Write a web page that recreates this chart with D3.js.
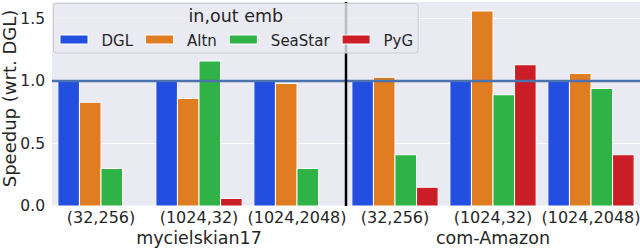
<!DOCTYPE html>
<html>
<head>
<meta charset="utf-8">
<script src="https://cdn.jsdelivr.net/npm/d3@7"></script>
<style>
  body { margin: 0; background: #fff; }
  svg { font-family: "DejaVu Sans", sans-serif; display: block; }
</style>
</head>
<body>
<div id="chart"></div>
<script>
// data
const groups = ["(32,256)", "(1024,32)", "(1024,2048)", "(32,256) ", "(1024,32) ", "(1024,2048) "];
const datasets = ["mycielskian17", "com-Amazon"];
const series = ["DGL", "Altn", "SeaStar", "PyG"];
const colors = ["#224fdf", "#df7d20", "#30b346", "#cb1d25"];
const dgl = [1.0, 1.0, 1.0, 1.0, 1.0, 1.0];
const altn = [0.83, 0.86, 0.98, 1.03, 1.56, 1.06];
const seastar = [0.30, 1.16, 0.30, 0.41, 0.89, 0.94];
const pyg = [0, 0.06, 0, 0.15, 1.13, 0.41];
const yTicks = [0, 0.5, 1.0, 1.5];

const values = [dgl, altn, seastar, pyg];
const rows = [];
groups.forEach((g, i) => series.forEach((s, j) => rows.push({ group: g, serie: s, value: values[j][i] })));

const width = 640, height = 250;
const margin = { top: 2, right: 0, bottom: 44, left: 52 };

const svg = d3.select("#chart").append("svg")
  .attr("width", width)
  .attr("height", height);

const x0 = d3.scaleBand().domain(groups).range([margin.left, width - margin.right]);
const bw = x0.bandwidth();
const x1 = d3.scaleBand().domain(series).range([bw * 0.06, bw * 0.94]);
const y = d3.scaleLinear().domain([0, 1.632]).range([height - margin.bottom, margin.top]);

// achtergrond
svg.append("rect")
  .attr("x", margin.left).attr("y", margin.top)
  .attr("width", width - margin.left - margin.right)
  .attr("height", y(0) - margin.top)
  .attr("fill", "#eaeaf2");

// gridlijnen
svg.append("g").selectAll("line").data(yTicks).join("line")
  .attr("x1", margin.left).attr("x2", width - margin.right)
  .attr("y1", d => y(d)).attr("y2", d => y(d))
  .attr("stroke", "#fff").attr("stroke-width", 1.2);

// Y-AS
svg.append("g")
  .attr("transform", `translate(${margin.left},0)`)
  .call(d3.axisLeft(y).tickValues(yTicks).tickFormat(d3.format(".1f")).tickSize(0).tickPadding(7))
  .call(g => g.select(".domain").remove())
  .selectAll("text")
  .attr("font-size", 15.5).attr("font-family", "DejaVu Sans").attr("fill", "#262626");

svg.append("text")
  .attr("transform", `translate(15.5,98.5) rotate(-90)`)
  .attr("text-anchor", "middle")
  .attr("font-size", 18).attr("fill", "#262626")
  .text("Speedup (wrt. DGL)");

// X-AS
svg.append("g")
  .attr("transform", `translate(0,${y(0)})`)
  .call(d3.axisBottom(x0).tickSize(0).tickPadding(6))
  .call(g => g.select(".domain").remove())
  .selectAll("text")
  .attr("font-size", 16).attr("font-family", "DejaVu Sans").attr("fill", "#262626");

svg.append("g").selectAll("text").data(datasets).join("text")
  .attr("x", (d, i) => x0(groups[i * 3 + 1]) + bw / 2)
  .attr("y", height - 6)
  .attr("text-anchor", "middle")
  .attr("font-size", 17.5).attr("fill", "#262626")
  .text(d => d);

// staven
svg.append("g").selectAll("rect").data(rows).join("rect")
  .attr("x", d => x0(d.group) + x1(d.serie))
  .attr("y", d => y(d.value))
  .attr("width", x1.bandwidth())
  .attr("height", d => y(0) - y(d.value))
  .attr("fill", d => colors[series.indexOf(d.serie)])
  .attr("stroke", "#fff").attr("stroke-width", d => d.value > 0 ? 1 : 0);

// referentielijn op 1.0
svg.append("line")
  .attr("x1", margin.left).attr("x2", width - margin.right)
  .attr("y1", y(1)).attr("y2", y(1))
  .attr("stroke", "#4c72b0").attr("stroke-width", 2.5);

// scheiding tussen datasets
const sep = x0(groups[3]);
svg.append("line")
  .attr("x1", sep).attr("x2", sep)
  .attr("y1", margin.top).attr("y2", y(0))
  .attr("stroke", "#000").attr("stroke-width", 2.5);

// legenda
const leg = svg.append("g");
const legBox = leg.append("rect")
  .attr("x", 53.5).attr("y", 3.5).attr("height", 49.5)
  .attr("rx", 3)
  .attr("fill", "#eaeaf2").attr("fill-opacity", 0.8)
  .attr("stroke", "#cccccc").attr("stroke-width", 1);

let cx = 60;
series.forEach((s, i) => {
  leg.append("rect")
    .attr("x", cx).attr("y", 35).attr("width", 28).attr("height", 9)
    .attr("fill", colors[i]).attr("stroke", "#fff").attr("stroke-width", 1);
  const t = leg.append("text")
    .attr("x", cx + 41.5).attr("y", 45.5)
    .attr("font-size", 15).attr("fill", "#262626")
    .text(s);
  cx = cx + 41.5 + t.node().getComputedTextLength() + 12.5;
});
const legW = cx - 12.5 + 5 - 53.5;
legBox.attr("width", legW);

leg.append("text")
  .attr("x", 53.5 + legW / 2).attr("y", 22)
  .attr("text-anchor", "middle")
  .attr("font-size", 17.5).attr("fill", "#262626")
  .text("in,out emb");
</script>
</body>
</html>
